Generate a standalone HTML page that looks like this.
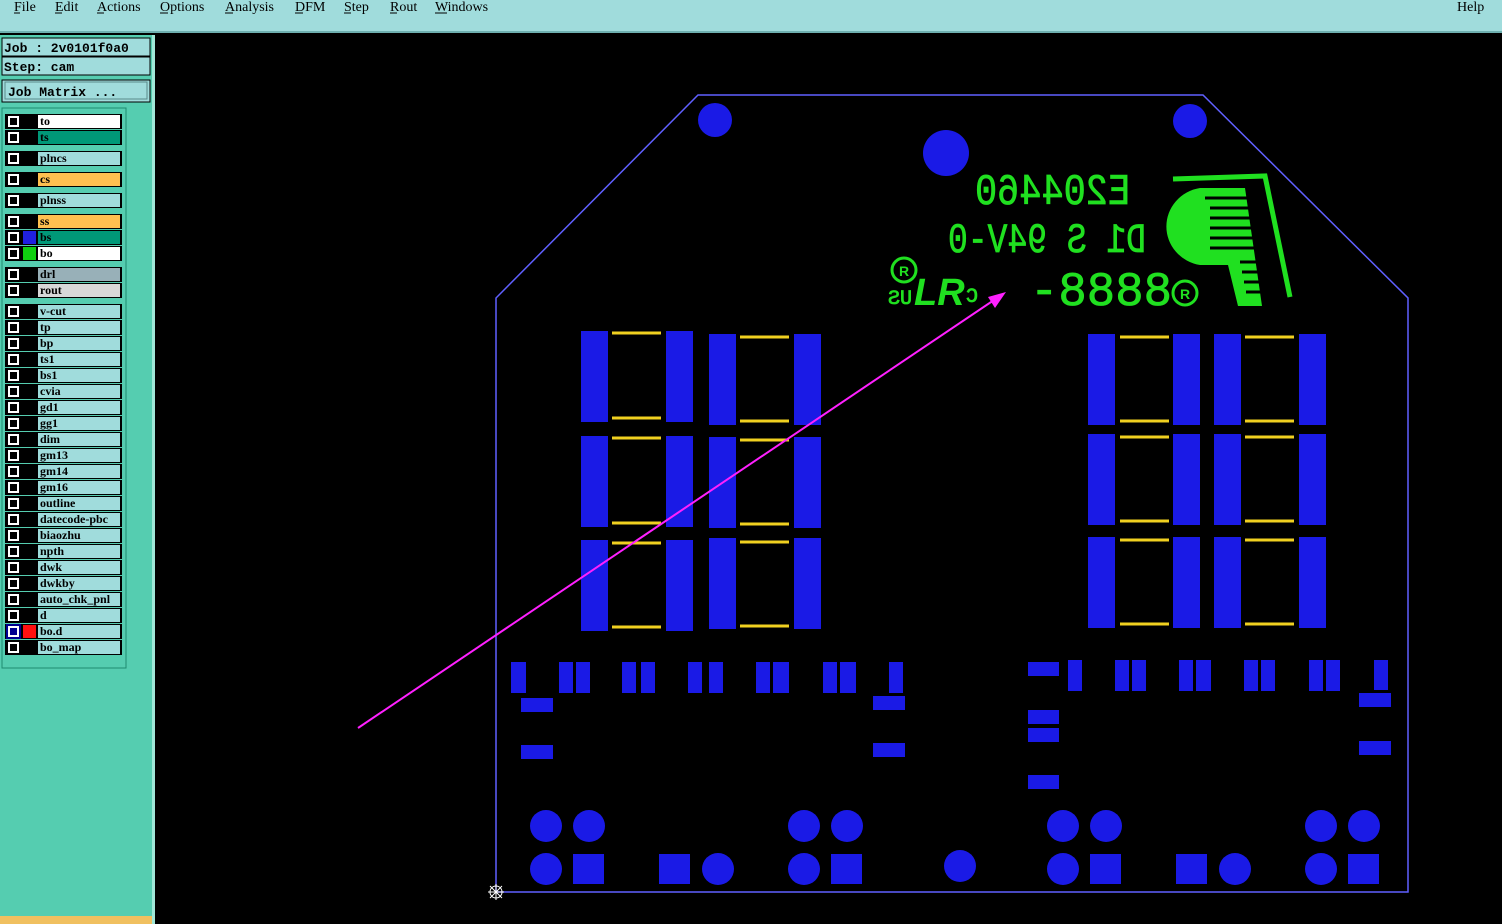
<!DOCTYPE html>
<html><head><meta charset="utf-8"><style>
body{margin:0;width:1502px;height:924px;overflow:hidden;background:#000;font-family:"Liberation Mono",monospace}
.r{position:absolute;left:5px;width:117px;height:15px;background:#000}
.cb{position:absolute;left:3px;top:2px;width:7px;height:7px;border:2px solid #fff;background:#000}
.sw{position:absolute;left:18px;top:1px;width:13px;height:13px}
.nm{position:absolute;left:33px;top:1px;width:82px;height:13px;background:#a0dcdc;font-family:"Liberation Serif",serif;font-weight:bold;font-size:12px;line-height:13px;padding-left:2px;box-sizing:border-box;overflow:hidden;white-space:nowrap}
</style></head><body>
<svg width="1502" height="924" xmlns="http://www.w3.org/2000/svg" style="position:absolute;left:0;top:0">
<rect width="1502" height="924" fill="#000"/>
<rect x="0" y="0" width="1502" height="33" fill="#a0dcdc"/>
<rect x="0" y="31" width="1502" height="2" fill="#6fb0b0"/>
<g font-family="Liberation Serif,serif" font-size="14" fill="#000">
<text x="14" y="11">File</text><text x="55" y="11">Edit</text><text x="97" y="11">Actions</text><text x="160" y="11">Options</text><text x="225" y="11">Analysis</text><text x="295" y="11">DFM</text><text x="344" y="11">Step</text><text x="390" y="11">Rout</text><text x="435" y="11">Windows</text><text x="1457" y="11">Help</text>
</g>
<g stroke="#000" stroke-width="1"><line x1="14" y1="13" x2="20" y2="13"/><line x1="55" y1="13" x2="62" y2="13"/><line x1="97" y1="13" x2="104" y2="13"/><line x1="160" y1="13" x2="168" y2="13"/><line x1="225" y1="13" x2="233" y2="13"/><line x1="295" y1="13" x2="303" y2="13"/><line x1="344" y1="13" x2="351" y2="13"/><line x1="390" y1="13" x2="397" y2="13"/><line x1="435" y1="13" x2="447" y2="13"/></g>
<rect x="0" y="35" width="152" height="889" fill="#55cdb0"/>
<rect x="152" y="35" width="3" height="889" fill="#a0e8d8"/>
<rect x="2" y="38" width="148" height="18" fill="#a0dcdc" stroke="#000"/>
<rect x="2" y="57" width="148" height="18" fill="#a0dcdc" stroke="#000"/>
<rect x="2" y="80" width="148" height="22" fill="#a0dcdc" stroke="#000"/>
<rect x="5" y="82" width="142" height="17" fill="#a0dcdc" stroke="#5a8a8a"/>
<g font-size="13" font-family="Liberation Mono,monospace" font-weight="bold" fill="#000">
<text x="4" y="52">Job : 2v0101f0a0</text>
<text x="4" y="71">Step: cam</text>
<text x="8" y="96">Job Matrix ...</text>
</g>
<rect x="2" y="108" width="124" height="560" fill="#55cdb0" stroke="#1e8a70"/>
<rect x="0" y="916" width="152" height="8" fill="#f0c060"/>
<polygon points="698,95 1203,95 1408,298 1408,892 496,892 496,298" fill="none" stroke="#6060ff" stroke-width="1.5"/>
<g fill="#1a1ae6">
<circle cx="715" cy="120" r="17"/><circle cx="946" cy="153" r="23"/><circle cx="1190" cy="121" r="17"/>
<rect x="581" y="331" width="27" height="91"/><rect x="666" y="331" width="27" height="91"/>
<rect x="581" y="436" width="27" height="91"/><rect x="666" y="436" width="27" height="91"/>
<rect x="581" y="540" width="27" height="91"/><rect x="666" y="540" width="27" height="91"/>
<rect x="709" y="334" width="27" height="91"/><rect x="794" y="334" width="27" height="91"/>
<rect x="709" y="437" width="27" height="91"/><rect x="794" y="437" width="27" height="91"/>
<rect x="709" y="538" width="27" height="91"/><rect x="794" y="538" width="27" height="91"/>
<rect x="1088" y="334" width="27" height="91"/><rect x="1173" y="334" width="27" height="91"/>
<rect x="1088" y="434" width="27" height="91"/><rect x="1173" y="434" width="27" height="91"/>
<rect x="1088" y="537" width="27" height="91"/><rect x="1173" y="537" width="27" height="91"/>
<rect x="1214" y="334" width="27" height="91"/><rect x="1299" y="334" width="27" height="91"/>
<rect x="1214" y="434" width="27" height="91"/><rect x="1299" y="434" width="27" height="91"/>
<rect x="1214" y="537" width="27" height="91"/><rect x="1299" y="537" width="27" height="91"/>
<rect x="511" y="662" width="15" height="31"/>
<rect x="559" y="662" width="14" height="31"/><rect x="576" y="662" width="14" height="31"/>
<rect x="622" y="662" width="14" height="31"/><rect x="641" y="662" width="14" height="31"/>
<rect x="688" y="662" width="14" height="31"/><rect x="709" y="662" width="14" height="31"/>
<rect x="756" y="662" width="14" height="31"/><rect x="773" y="662" width="16" height="31"/>
<rect x="823" y="662" width="14" height="31"/><rect x="840" y="662" width="16" height="31"/>
<rect x="889" y="662" width="14" height="31"/>
<rect x="521" y="698" width="32" height="14"/><rect x="521" y="745" width="32" height="14"/>
<rect x="873" y="696" width="32" height="14"/><rect x="873" y="743" width="32" height="14"/>
<rect x="1028" y="662" width="31" height="14"/><rect x="1068" y="660" width="14" height="31"/>
<rect x="1115" y="660" width="14" height="31"/><rect x="1132" y="660" width="14" height="31"/>
<rect x="1179" y="660" width="14" height="31"/><rect x="1196" y="660" width="15" height="31"/>
<rect x="1244" y="660" width="14" height="31"/><rect x="1261" y="660" width="14" height="31"/>
<rect x="1309" y="660" width="14" height="31"/><rect x="1326" y="660" width="14" height="31"/>
<rect x="1374" y="660" width="14" height="30"/>
<rect x="1359" y="693" width="32" height="14"/><rect x="1359" y="741" width="32" height="14"/>
<rect x="1028" y="710" width="31" height="14"/><rect x="1028" y="728" width="31" height="14"/><rect x="1028" y="775" width="31" height="14"/>
<circle cx="546" cy="826" r="16"/><circle cx="589" cy="826" r="16"/><circle cx="546" cy="869" r="16"/><rect x="573" y="854" width="31" height="30"/>
<rect x="659" y="854" width="31" height="30"/><circle cx="718" cy="869" r="16"/>
<circle cx="804" cy="826" r="16"/><circle cx="847" cy="826" r="16"/><circle cx="804" cy="869" r="16"/><rect x="831" y="854" width="31" height="30"/>
<circle cx="960" cy="866" r="16"/>
<circle cx="1063" cy="826" r="16"/><circle cx="1106" cy="826" r="16"/><circle cx="1063" cy="869" r="16"/><rect x="1090" y="854" width="31" height="30"/>
<rect x="1176" y="854" width="31" height="30"/><circle cx="1235" cy="869" r="16"/>
<circle cx="1321" cy="826" r="16"/><circle cx="1364" cy="826" r="16"/><circle cx="1321" cy="869" r="16"/><rect x="1348" y="854" width="31" height="30"/>
</g>
<g stroke="#f0d020" stroke-width="3">
<line x1="612" y1="333" x2="661" y2="333"/><line x1="612" y1="418" x2="661" y2="418"/>
<line x1="612" y1="438" x2="661" y2="438"/><line x1="612" y1="523" x2="661" y2="523"/>
<line x1="612" y1="543" x2="661" y2="543"/><line x1="612" y1="627" x2="661" y2="627"/>
<line x1="740" y1="337" x2="789" y2="337"/><line x1="740" y1="421" x2="789" y2="421"/>
<line x1="740" y1="440" x2="789" y2="440"/><line x1="740" y1="524" x2="789" y2="524"/>
<line x1="740" y1="542" x2="789" y2="542"/><line x1="740" y1="626" x2="789" y2="626"/>
<line x1="1120" y1="337" x2="1169" y2="337"/><line x1="1120" y1="421" x2="1169" y2="421"/>
<line x1="1120" y1="437" x2="1169" y2="437"/><line x1="1120" y1="521" x2="1169" y2="521"/>
<line x1="1120" y1="540" x2="1169" y2="540"/><line x1="1120" y1="624" x2="1169" y2="624"/>
<line x1="1245" y1="337" x2="1294" y2="337"/><line x1="1245" y1="421" x2="1294" y2="421"/>
<line x1="1245" y1="437" x2="1294" y2="437"/><line x1="1245" y1="521" x2="1294" y2="521"/>
<line x1="1245" y1="540" x2="1294" y2="540"/><line x1="1245" y1="624" x2="1294" y2="624"/>
</g>
<g fill="#20e020" stroke="#20e020" stroke-width="0.8" font-family="Liberation Mono,monospace">
<text transform="translate(1130,204) scale(-1,1)" font-size="44" textLength="155" lengthAdjust="spacingAndGlyphs">E204460</text>
<text transform="translate(1146,252) scale(-1,1)" font-size="42" textLength="198" lengthAdjust="spacingAndGlyphs">D1 S 94V-0</text>
<text x="1030" y="305" font-size="48" textLength="142" lengthAdjust="spacingAndGlyphs">-8888</text>
<text transform="translate(978,302) scale(-1,1)" font-size="20">C</text>
<text transform="translate(912,304) scale(-1,1)" font-size="20">US</text>
</g>
<text x="914" y="305" font-size="38" font-weight="bold" font-style="italic" font-family="Liberation Sans,sans-serif" fill="#20e020">LR</text>
<g fill="none" stroke="#20e020" stroke-width="3">
<circle cx="904" cy="270" r="12"/><circle cx="1185" cy="293" r="12"/>
</g>
<polyline points="1173,179 1265,176 1290,297" fill="none" stroke="#20e020" stroke-width="5"/>
<g fill="#20e020">
<path d="M1200,188 L1245,188 L1262,306 L1238,306 L1228,265 L1200,265 A40,39 0 0 1 1200,188 Z"/>
</g>
<g stroke="#000" stroke-width="3">
<line x1="1205" y1="198" x2="1260" y2="198"/><line x1="1210" y1="208" x2="1260" y2="208"/><line x1="1210" y1="218" x2="1260" y2="218"/><line x1="1210" y1="228" x2="1260" y2="228"/><line x1="1210" y1="238" x2="1260" y2="238"/><line x1="1210" y1="248" x2="1260" y2="248"/><line x1="1240" y1="262" x2="1266" y2="262"/><line x1="1242" y1="272" x2="1266" y2="272"/><line x1="1244" y1="282" x2="1268" y2="282"/><line x1="1246" y1="292" x2="1268" y2="292"/>
</g>
<text x="1185" y="299" font-size="14" fill="#20e020" text-anchor="middle" font-family="Liberation Sans,sans-serif" font-weight="bold">R</text>
<text x="904" y="276" font-size="14" fill="#20e020" text-anchor="middle" font-family="Liberation Sans,sans-serif" font-weight="bold">R</text>
<line x1="358" y1="728" x2="1000" y2="296" stroke="#ff20ff" stroke-width="2"/>
<polygon points="1006,292 988,297 995,308" fill="#ff20ff"/>
<g stroke="#fff" stroke-width="1"><circle cx="496" cy="892" r="6" fill="none"/><line x1="488" y1="892" x2="504" y2="892"/><line x1="496" y1="884" x2="496" y2="900"/><line x1="490" y1="886" x2="502" y2="898"/><line x1="502" y1="886" x2="490" y2="898"/></g>
</svg>
<div class="r" style="top:114px"><div class="cb"></div><div class="nm" style="background:#fff">to</div></div>
<div class="r" style="top:130px"><div class="cb"></div><div class="nm" style="background:#009878">ts</div></div>
<div class="r" style="top:151px"><div class="cb"></div><div class="nm">plncs</div></div>
<div class="r" style="top:172px"><div class="cb"></div><div class="nm" style="background:#ffc050">cs</div></div>
<div class="r" style="top:193px"><div class="cb"></div><div class="nm">plnss</div></div>
<div class="r" style="top:214px"><div class="cb"></div><div class="nm" style="background:#ffc050">ss</div></div>
<div class="r" style="top:230px"><div class="cb"></div><div class="sw" style="background:#2020e0"></div><div class="nm" style="background:#009878">bs</div></div>
<div class="r" style="top:246px"><div class="cb"></div><div class="sw" style="background:#10d010"></div><div class="nm" style="background:#fff">bo</div></div>
<div class="r" style="top:267px"><div class="cb"></div><div class="nm" style="background:#98b0b8">drl</div></div>
<div class="r" style="top:283px"><div class="cb"></div><div class="nm" style="background:#d8d8d8">rout</div></div>
<div class="r" style="top:304px"><div class="cb"></div><div class="nm">v-cut</div></div>
<div class="r" style="top:320px"><div class="cb"></div><div class="nm">tp</div></div>
<div class="r" style="top:336px"><div class="cb"></div><div class="nm">bp</div></div>
<div class="r" style="top:352px"><div class="cb"></div><div class="nm">ts1</div></div>
<div class="r" style="top:368px"><div class="cb"></div><div class="nm">bs1</div></div>
<div class="r" style="top:384px"><div class="cb"></div><div class="nm">cvia</div></div>
<div class="r" style="top:400px"><div class="cb"></div><div class="nm">gd1</div></div>
<div class="r" style="top:416px"><div class="cb"></div><div class="nm">gg1</div></div>
<div class="r" style="top:432px"><div class="cb"></div><div class="nm">dim</div></div>
<div class="r" style="top:448px"><div class="cb"></div><div class="nm">gm13</div></div>
<div class="r" style="top:464px"><div class="cb"></div><div class="nm">gm14</div></div>
<div class="r" style="top:480px"><div class="cb"></div><div class="nm">gm16</div></div>
<div class="r" style="top:496px"><div class="cb"></div><div class="nm">outline</div></div>
<div class="r" style="top:512px"><div class="cb"></div><div class="nm">datecode-pbc</div></div>
<div class="r" style="top:528px"><div class="cb"></div><div class="nm">biaozhu</div></div>
<div class="r" style="top:544px"><div class="cb"></div><div class="nm">npth</div></div>
<div class="r" style="top:560px"><div class="cb"></div><div class="nm">dwk</div></div>
<div class="r" style="top:576px"><div class="cb"></div><div class="nm">dwkby</div></div>
<div class="r" style="top:592px"><div class="cb"></div><div class="nm">auto_chk_pnl</div></div>
<div class="r" style="top:608px"><div class="cb"></div><div class="nm">d</div></div>
<div class="r" style="top:624px"><div class="cb" style="outline:2px solid #000090;background:#000090"></div><div class="sw" style="background:#ff1010"></div><div class="nm">bo.d</div></div>
<div class="r" style="top:640px"><div class="cb"></div><div class="nm">bo_map</div></div>
</body></html>
